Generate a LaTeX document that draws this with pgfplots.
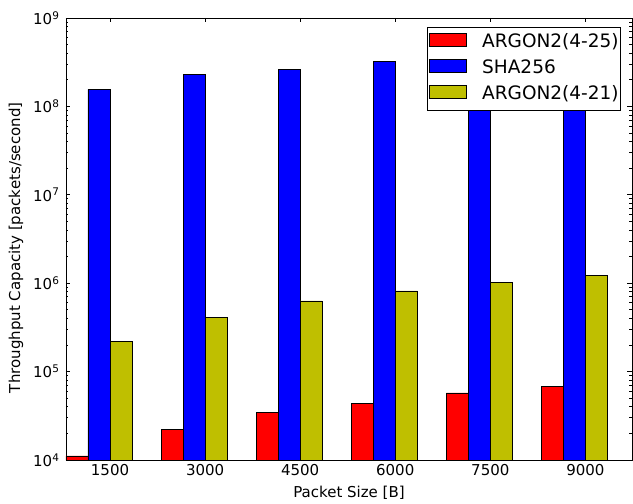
\documentclass[border=0pt]{standalone}
\usepackage{fontspec}
\setmainfont{DejaVu Sans}
\usepackage{pgfplots}
\pgfplotsset{compat=1.18}
\definecolor{myred}{rgb}{1,0,0}
\definecolor{myblue}{rgb}{0,0,1}
\definecolor{myyel}{rgb}{0.75,0.75,0}
\begin{document}
\begin{tikzpicture}
\begin{axis}[
  at={(0pt,0pt)}, anchor=south west,
  scale only axis, width=566pt, height=442pt,
  ymode=log, log basis y=10, ymin=1e4, ymax=1e9,
  xmin=-0.463, xmax=5.49,
  ybar, bar width=0.2316,
  axis line style={black, line width=0.9pt},
  xtick={0,1,2,3,4,5},
  xticklabels={1500,3000,4500,6000,7500,9000},
  ytick={1e4,1e5,1e6,1e7,1e8,1e9},
  yticklabels={10\textsuperscript{4},10\textsuperscript{5},10\textsuperscript{6},10\textsuperscript{7},10\textsuperscript{8},10\textsuperscript{9}},
  minor ytick={2e4,3e4,4e4,5e4,6e4,7e4,8e4,9e4,2e5,3e5,4e5,5e5,6e5,7e5,8e5,9e5,2e6,3e6,4e6,5e6,6e6,7e6,8e6,9e6,2e7,3e7,4e7,5e7,6e7,7e7,8e7,9e7,2e8,3e8,4e8,5e8,6e8,7e8,8e8,9e8},
  tick align=inside,
  major tick length=4.5pt, minor tick length=2.5pt,
  tick style={black, line width=0.8pt},
  ticklabel style={font=\fontsize{15}{18}\selectfont},
  xticklabel style={yshift=-1pt},
  yticklabel style={xshift=-3pt},
  xlabel={Packet Size [B]},
  ylabel={Throughput Capacity [packets/second]},
  every axis x label/.style={at={(axis description cs:0.5,0)}, yshift=-33pt, anchor=center, font=\fontsize{15}{18}\selectfont},
  every axis y label/.style={at={(axis description cs:0,0.48)}, xshift=-50pt, rotate=90, anchor=center, font=\fontsize{15}{18}\selectfont},
  legend style={at={(0.9806,0.9796)}, anchor=north east, draw=black, line width=0.8pt,
    font=\fontsize{18.5}{21}\selectfont, inner xsep=2pt, inner ysep=6pt,
    row sep=7pt, nodes={inner sep=0pt, text height=13pt, text depth=5pt},
    /tikz/every even column/.append style={column sep=0pt}},
  legend cell align=left,
  legend image code/.code={\draw[#1, draw=black, line width=0.8pt] (5pt,-3.5pt) rectangle (42pt,9.5pt);},
  /tikz/every odd column/.append style={column sep=15pt},
]
\addplot[fill=myred, draw=black, line width=0.8pt, bar shift=0pt] coordinates {
  (-0.3474,1.11e4) (0.6526,2.22e4) (1.6526,3.41e4) (2.6526,4.37e4) (3.6526,5.73e4) (4.6526,6.81e4)};
\addlegendentry{ARGON2(4-25)}
\addplot[fill=myblue, draw=black, line width=0.8pt, bar shift=0pt] coordinates {
  (-0.1158,1.56e8) (0.8842,2.31e8) (1.8842,2.63e8) (2.8842,3.20e8) (3.8842,3.40e8) (4.8842,3.60e8)};
\addlegendentry{SHA256}
\addplot[fill=myyel, draw=black, line width=0.8pt, bar shift=0pt] coordinates {
  (0.1158,2.20e5) (1.1158,4.11e5) (2.1158,6.29e5) (3.1158,8.17e5) (4.1158,1.03e6) (5.1158,1.23e6)};
\addlegendentry{ARGON2(4-21)}
\end{axis}
\path[use as bounding box] (-66pt,-42pt) rectangle (567pt,460pt);
\end{tikzpicture}
\end{document}
